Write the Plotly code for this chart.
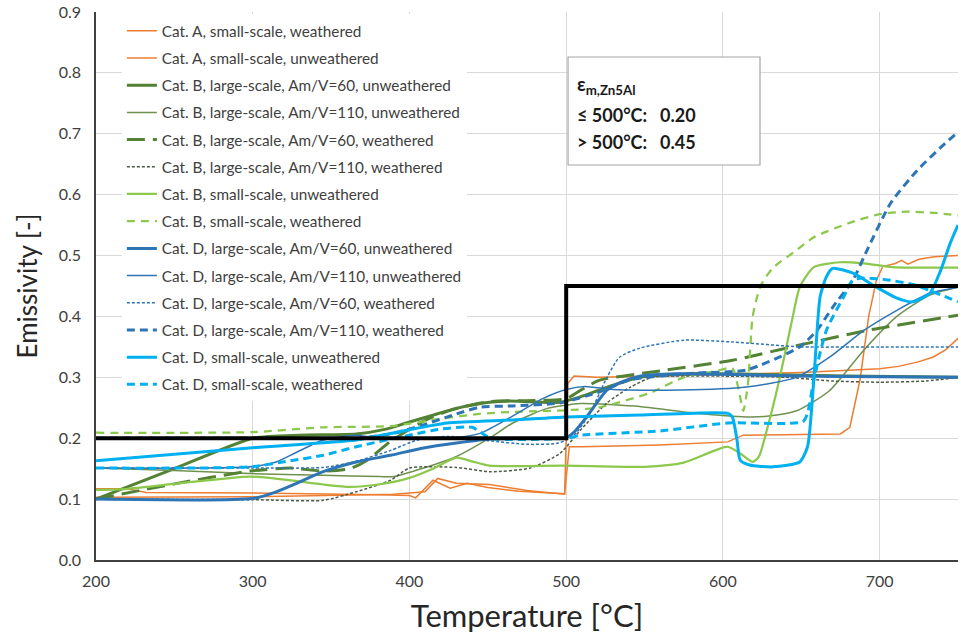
import plotly.graph_objects as go

# ---------------- data ----------------
names = [
    "Cat. A, small-scale, weathered",
    "Cat. A, small-scale, unweathered",
    "Cat. B, large-scale, Am/V=60, unweathered",
    "Cat. B, large-scale, Am/V=110, unweathered",
    "Cat. B, large-scale, Am/V=60, weathered",
    "Cat. B, large-scale, Am/V=110, weathered",
    "Cat. B, small-scale, unweathered",
    "Cat. B, small-scale, weathered",
    "Cat. D, large-scale, Am/V=60, unweathered",
    "Cat. D, large-scale, Am/V=110, unweathered",
    "Cat. D, large-scale, Am/V=60, weathered",
    "Cat. D, large-scale, Am/V=110, weathered",
    "Cat. D, small-scale, unweathered",
    "Cat. D, small-scale, weathered",
]

t_a_w = [200, 220, 232, 300, 380, 400, 404, 415, 426, 437, 450, 470, 490, 499, 502, 510, 560, 603, 613, 640, 675, 681, 687.5, 693, 698, 702, 710, 714, 718, 725, 735, 750]
e_a_w = [0.117, 0.117, 0.111, 0.110, 0.107, 0.106, 0.102, 0.131, 0.118, 0.126, 0.119, 0.113, 0.110, 0.109, 0.186, 0.186, 0.189, 0.194, 0.205, 0.206, 0.207, 0.218, 0.296, 0.40, 0.46, 0.482, 0.487, 0.492, 0.486, 0.494, 0.498, 0.50]

t_a_u = [200, 300, 390, 410, 418, 430, 451, 475, 499, 501, 505, 520, 560, 600, 650, 700, 712, 724, 734, 742, 750]
e_a_u = [0.103, 0.104, 0.108, 0.112, 0.134, 0.126, 0.124, 0.114, 0.108, 0.29, 0.302, 0.30, 0.302, 0.305, 0.308, 0.314, 0.318, 0.325, 0.333, 0.345, 0.364]

t_bl60_u = [200, 250, 300, 330, 366, 385, 398, 415, 430, 451, 464, 477, 496, 509, 520, 530, 547, 580, 620, 680, 750]
e_bl60_u = [0.10, 0.15, 0.20, 0.205, 0.207, 0.215, 0.225, 0.238, 0.249, 0.259, 0.261, 0.26, 0.259, 0.268, 0.278, 0.287, 0.30, 0.306, 0.305, 0.302, 0.30]

t_bl110_u = [200, 250, 298, 345, 381, 390, 409, 430, 451, 466, 488, 509, 530, 547, 583, 615, 628, 647, 668, 690, 711, 732, 750]
e_bl110_u = [0.151, 0.147, 0.142, 0.139, 0.137, 0.137, 0.151, 0.17, 0.20, 0.225, 0.249, 0.257, 0.255, 0.252, 0.241, 0.235, 0.236, 0.245, 0.278, 0.345, 0.40, 0.435, 0.448]

t_bl60_w = [200, 250, 298, 324, 345, 362, 373, 388, 409, 426, 451, 480, 500, 510, 521, 564, 606, 649, 692, 750]
e_bl60_w = [0.10, 0.125, 0.146, 0.151, 0.146, 0.150, 0.164, 0.195, 0.228, 0.246, 0.26, 0.262, 0.265, 0.28, 0.295, 0.312, 0.328, 0.353, 0.377, 0.402]

t_bl110_w = [200, 300, 345, 366, 388, 400, 430, 451, 477, 496, 509, 526, 541, 555, 600, 640, 670, 700, 730, 750]
e_bl110_w = [0.10, 0.099, 0.098, 0.112, 0.131, 0.151, 0.152, 0.145, 0.151, 0.175, 0.213, 0.258, 0.284, 0.30, 0.302, 0.30, 0.294, 0.292, 0.294, 0.30]

t_bs_u = [200, 220, 250, 298, 320, 345, 362, 380, 400, 415, 430, 440, 451, 500, 550, 575, 603, 611, 619, 623, 628, 636, 645, 649, 658, 675, 690, 708, 750]
e_bs_u = [0.115, 0.117, 0.125, 0.137, 0.132, 0.124, 0.120, 0.124, 0.135, 0.15, 0.168, 0.162, 0.155, 0.155, 0.153, 0.16, 0.186, 0.175, 0.161, 0.17, 0.213, 0.296, 0.405, 0.448, 0.481, 0.489, 0.487, 0.481, 0.48]

t_bs_w = [200, 300, 345, 388, 420, 445, 464, 500, 520, 553, 575, 595, 606, 610, 613, 616, 619, 624, 632, 645, 658, 680, 700, 717, 735, 750]
e_bs_w = [0.209, 0.21, 0.218, 0.22, 0.232, 0.240, 0.243, 0.246, 0.25, 0.274, 0.30, 0.31, 0.315, 0.28, 0.245, 0.29, 0.40, 0.45, 0.48, 0.505, 0.53, 0.553, 0.568, 0.572, 0.57, 0.566]

t_dl60_u = [200, 300, 315, 328, 345, 366, 388, 409, 430, 453, 480, 500, 505, 513, 526, 536, 547, 570, 600, 650, 700, 750]
e_dl60_u = [0.10, 0.101, 0.112, 0.126, 0.145, 0.161, 0.172, 0.184, 0.192, 0.199, 0.20, 0.201, 0.21, 0.235, 0.279, 0.293, 0.302, 0.306, 0.305, 0.302, 0.301, 0.30]

t_dl110_u = [200, 298, 315, 328, 345, 366, 381, 424, 445, 465, 485, 500, 512, 530, 573, 615, 647, 668, 690, 711, 732, 750]
e_dl110_u = [0.151, 0.153, 0.161, 0.177, 0.197, 0.205, 0.20, 0.20, 0.208, 0.235, 0.265, 0.28, 0.285, 0.28, 0.279, 0.284, 0.30, 0.333, 0.377, 0.41, 0.438, 0.448]

t_dl60_w = [200, 300, 345, 366, 388, 405, 425, 450, 475, 495, 505, 515, 526, 534, 547, 575, 606, 650, 700, 750]
e_dl60_w = [0.151, 0.151, 0.152, 0.162, 0.18, 0.197, 0.203, 0.196, 0.19, 0.192, 0.205, 0.24, 0.30, 0.333, 0.348, 0.361, 0.358, 0.35, 0.35, 0.35]

t_dl110_w = [200, 300, 366, 388, 409, 430, 445, 466, 496, 520, 541, 583, 615, 649, 660, 670, 683, 692, 707, 724, 740, 750]
e_dl110_w = [0.20, 0.20, 0.20, 0.207, 0.222, 0.24, 0.251, 0.253, 0.258, 0.275, 0.296, 0.307, 0.312, 0.35, 0.377, 0.415, 0.46, 0.509, 0.586, 0.64, 0.68, 0.703]

t_ds_u = [200, 298, 366, 388, 424, 466, 500, 547, 603, 606, 609, 611, 617, 632, 649, 654, 658, 662, 666, 670, 683, 698, 711, 721, 732, 739, 745, 750]
e_ds_u = [0.163, 0.184, 0.197, 0.208, 0.225, 0.23, 0.235, 0.238, 0.241, 0.235, 0.197, 0.164, 0.156, 0.153, 0.161, 0.186, 0.296, 0.432, 0.465, 0.479, 0.471, 0.448, 0.43, 0.424, 0.438, 0.476, 0.52, 0.55]

t_ds_w = [200, 298, 324, 345, 366, 400, 420, 440, 452, 500, 510, 560, 603, 651, 654, 658, 666, 677, 683, 690, 705, 722, 750]
e_ds_w = [0.151, 0.153, 0.163, 0.172, 0.186, 0.205, 0.215, 0.218, 0.20, 0.20, 0.205, 0.212, 0.225, 0.227, 0.241, 0.296, 0.377, 0.432, 0.46, 0.463, 0.46, 0.452, 0.424]

t_step = [200, 500, 500, 750]
e_step = [0.20, 0.20, 0.45, 0.45]

x_ticks = [200, 300, 400, 500, 600, 700]

# ---------------- styles ----------------
ORANGE = "#ED7D31"
DKGREEN = "#548235"
OLIVE = "#6F9150"
GREYDOT = "#4D5A45"
LTGREEN = "#8CC84B"
BLUE = "#2E75B6"
LTBLUE = "#00B0F0"

# (t, e, colour, width, dash, smooth)
series = [
    (t_a_w, e_a_w, ORANGE, 1.5, "solid", False),
    (t_a_u, e_a_u, ORANGE, 1.5, "solid", False),
    (t_bl60_u, e_bl60_u, DKGREEN, 3, "solid", True),
    (t_bl110_u, e_bl110_u, OLIVE, 1.5, "solid", True),
    (t_bl60_w, e_bl60_w, DKGREEN, 3, "18px,8px", True),
    (t_bl110_w, e_bl110_w, GREYDOT, 1.5, "3px,2px", True),
    (t_bs_u, e_bs_u, LTGREEN, 2.25, "solid", True),
    (t_bs_w, e_bs_w, LTGREEN, 2.25, "8px,6px", True),
    (t_dl60_u, e_dl60_u, BLUE, 3, "solid", True),
    (t_dl110_u, e_dl110_u, BLUE, 1.5, "solid", True),
    (t_dl60_w, e_dl60_w, BLUE, 1.5, "3px,2px", True),
    (t_dl110_w, e_dl110_w, BLUE, 3, "8px,5px", True),
    (t_ds_u, e_ds_u, LTBLUE, 3, "solid", True),
    (t_ds_w, e_ds_w, LTBLUE, 3, "8px,5px", True),
]

fig = go.Figure()
for i, (nm, (tx, ey, col, w, dash, smooth)) in enumerate(zip(names, series)):
    line = dict(color=col, width=w, dash=dash)
    if smooth:
        line.update(shape="spline", smoothing=0.6)
    fig.add_trace(go.Scatter(
        x=tx, y=ey, mode="lines", name=nm, legendgroup=f"g{i}", line=line,
    ))

fig.add_trace(go.Scatter(
    x=t_step, y=e_step, mode="lines", showlegend=False,
    line=dict(color="black", width=4),
))

FONT = "Lato, 'Open Sans', sans-serif"

# annotation box
box_x0, box_x1, box_y0, box_y1 = 0.5476, 0.7703, 0.7208, 0.9179
fig.add_shape(type="rect", xref="paper", yref="paper",
              x0=box_x0, x1=box_x1, y0=box_y0, y1=box_y1,
              line=dict(color="#A6A6A6", width=1.2), fillcolor="white", layer="above")

lbl_font = dict(family=FONT, size=18, color="#1a1a1a")
fig.add_annotation(xref="paper", yref="paper", x=0.5557, y=0.8668, xanchor="left", yanchor="middle",
                   text="<b>ε<sub>m,Zn5Al</sub></b>", showarrow=False, font=dict(family=FONT, size=19, color="#1a1a1a"))
fig.add_annotation(xref="paper", yref="paper", x=0.5557, y=0.812, xanchor="left", yanchor="middle",
                   text="<b>≤ 500°C:</b>", showarrow=False, font=lbl_font)
fig.add_annotation(xref="paper", yref="paper", x=0.6520, y=0.812, xanchor="left", yanchor="middle",
                   text="<b>0.20</b>", showarrow=False, font=lbl_font)
fig.add_annotation(xref="paper", yref="paper", x=0.5557, y=0.7628, xanchor="left", yanchor="middle",
                   text="<b>&gt; 500°C:</b>", showarrow=False, font=lbl_font)
fig.add_annotation(xref="paper", yref="paper", x=0.6520, y=0.7628, xanchor="left", yanchor="middle",
                   text="<b>0.45</b>", showarrow=False, font=lbl_font)

fig.update_layout(
    width=961, height=641,
    margin=dict(l=96, r=3, t=12, b=81),
    paper_bgcolor="white", plot_bgcolor="white",
    font=dict(family=FONT, color="#404040"),
    showlegend=True,
    legend=dict(
        x=0.030, y=0.9956, xanchor="left", yanchor="top",
        bgcolor="white", borderwidth=0,
        font=dict(family=FONT, size=15.3, color="#404040"),
        tracegroupgap=4.3,
    ),
    xaxis=dict(
        range=[200, 750], tickvals=x_ticks, showgrid=True, gridcolor="#D9D9D9", gridwidth=1,
        showline=True, linecolor="#404040", linewidth=2, zeroline=False, ticks="",
        ticklabelstandoff=6,
        tickfont=dict(family=FONT, size=16, color="#404040"),
        title=dict(text="Temperature [°C]", font=dict(family=FONT, size=31, color="#262626"), standoff=16),
    ),
    yaxis=dict(
        range=[0, 0.9], dtick=0.1, tickformat=".1f", showgrid=True, gridcolor="#D9D9D9", gridwidth=1,
        showline=True, linecolor="#404040", linewidth=1.5, zeroline=False, ticks="",
        ticklabelstandoff=10,
        tickfont=dict(family=FONT, size=16, color="#404040"),
        title=dict(text="Emissivity [-]", font=dict(family=FONT, size=26, color="#262626"), standoff=14),
    ),
)

fig.write_html("out.html")
